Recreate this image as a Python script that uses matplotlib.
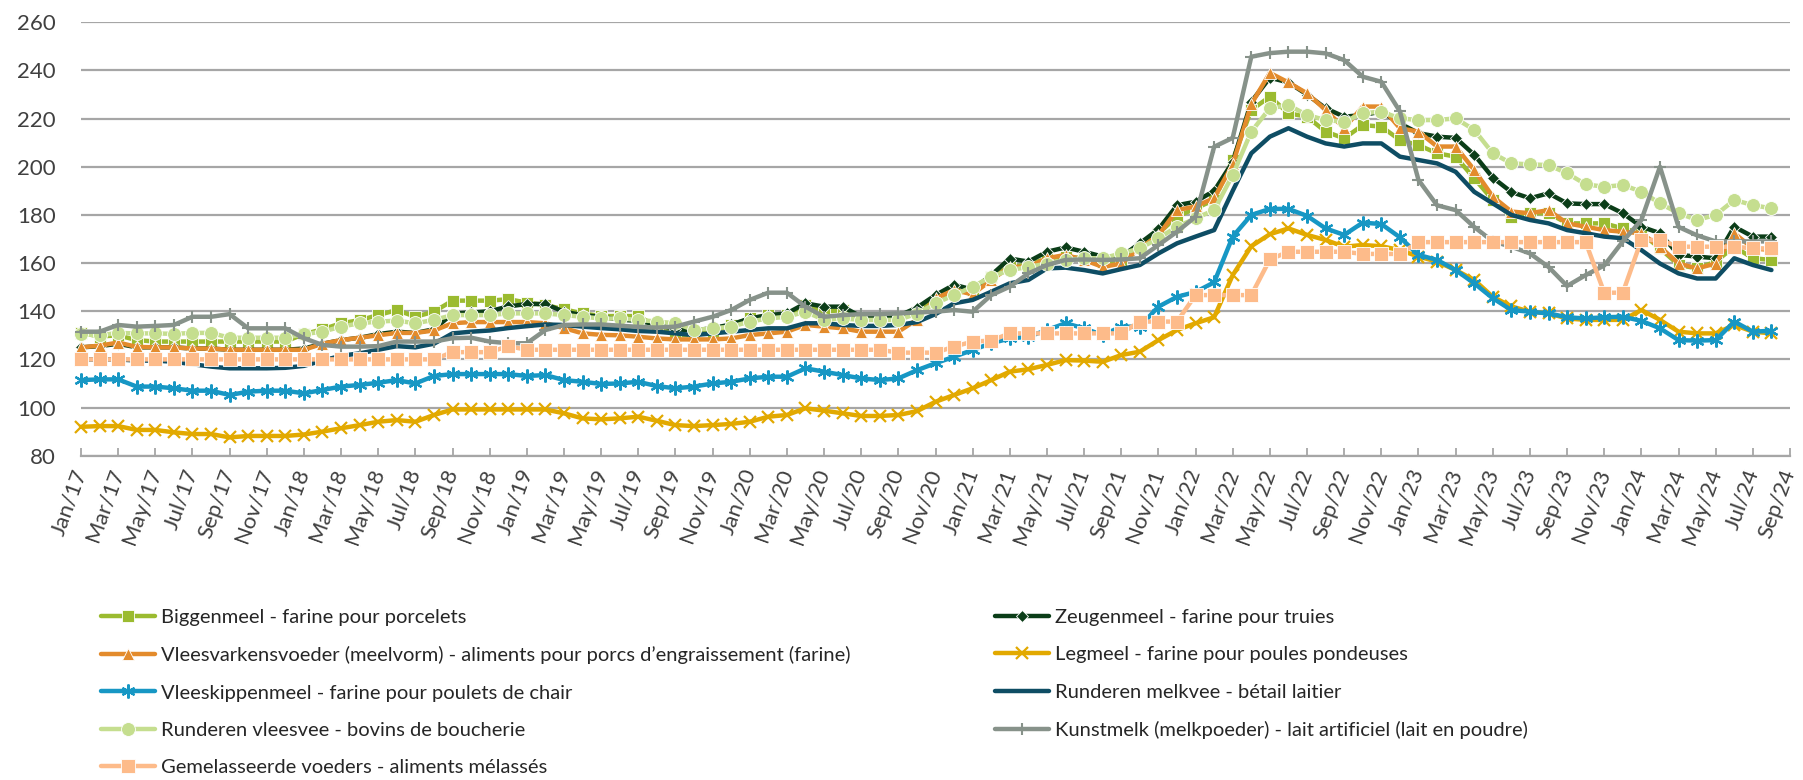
import matplotlib
matplotlib.use('Agg')
import matplotlib.pyplot as plt
import numpy as np

plt.rcParams['font.family'] = ['Lato', 'DejaVu Sans']

# ---------------- data ----------------
month_abbr = ['Jan', 'Feb', 'Mar', 'Apr', 'May', 'Jun', 'Jul', 'Aug', 'Sep', 'Oct', 'Nov', 'Dec']
month_labels = [f"{m}/{y}" for y in range(17, 25) for m in month_abbr][:93]   # Jan/17 .. Sep/24

biggenmeel = [131, 129.5, 130, 128, 127.4, 127.4, 127.4, 127.4, 127.4, 127.4, 127.4, 127.4, 130.5,
              132.5, 135, 136.3, 138.4, 140.5, 137.7, 139.8, 144.4, 144.4, 144.4, 145, 143.6, 142.6, 140.8, 139.1, 138, 138,
              138, 133.6, 130.1, 130.1, 131.5, 134.3, 137, 138.4, 138.4, 142.6, 139.8, 140.5, 137, 137, 137, 139.8,
              144.7, 147.4, 148.8, 154.3, 158.5, 159.2, 162, 162.7, 162, 160.6, 161.3, 166.1, 172.3, 179.3, 182.7, 186.2,
              202.8, 223.6, 229.1, 222.2, 220.8, 214.6, 211.8, 217.3, 216.7, 211.1, 209, 205.6, 204.2, 195.2, 186.2, 179.3,
              180.7, 180.7, 176.5, 176.5, 176.5, 174.4, 172.4, 166.1, 159.2, 157.8, 160.6, 166.8, 162, 161.3]

zeugenmeel = [125, 125.5, 126.5, 125, 125, 125, 124.5, 124.5, 124, 124, 124, 124, 124.5,
              126.5, 128, 129, 130.5, 131.5, 131, 132.5, 139, 139.5, 140, 142, 143, 143, 139.8, 138.4, 137.7, 136.5,
              136, 134.5, 132.5, 132, 133, 134.5, 137, 138.4, 139.1, 143.3, 141.9, 141.9, 137.7, 137.7, 138, 141.5,
              146.7, 151, 149, 155, 161.9, 160.6, 164.7, 166.5, 164.7, 162.7, 162.7, 168.2, 174, 184, 185.5, 190,
              202, 227, 237, 235, 230, 224.3, 220.8, 221.5, 222.9, 218, 214, 212.5, 212, 205, 195.5, 189.5,
              186.9, 189, 184.8, 184.5, 184.5, 180.7, 175.1, 172.4, 163.4, 162.7, 162, 175.1, 171, 171]

vleesvarkens = [125, 125.7, 127, 125.2, 125, 125, 124.5, 124.5, 124, 124, 124, 124, 124,
                126.5, 128, 129, 130, 131, 131, 132, 135, 135.5, 135.5, 135.5, 135.5, 135, 133, 130.8, 130.2, 130,
                129.4, 128.7, 128.3, 128.3, 128.3, 128.7, 130.1, 130.8, 131.5, 134.3, 133.6, 132.9, 131.5, 131.5, 131.5, 136.5,
                145.3, 148.8, 147, 153, 158.4, 158.4, 162, 163.4, 161.3, 158.4, 159.8, 166.1, 171.5, 182, 183.5, 187,
                201, 226, 239, 235, 230.5, 223.6, 216, 225, 225, 216, 214.6, 208.4, 208.4, 198.7, 187.6, 181.4,
                180.7, 182, 176.5, 175.1, 173.7, 173, 172.4, 166.8, 159.8, 157.8, 159.8, 172.4, 166.1, 165.4]

legmeel = [92, 92.3, 92.3, 90.7, 90.7, 89.7, 89, 89, 87.6, 88.2, 88.2, 88.2, 88.8,
           90, 91.4, 92.7, 94.1, 94.8, 94.1, 96.9, 99.2, 99.2, 99.2, 99.2, 99.2, 99.2, 97.6, 95.5, 95.1, 95.5,
           96.2, 94.5, 92.7, 92.3, 92.7, 93.2, 94.1, 96.2, 96.9, 99.7, 98.7, 97.6, 96.5, 96.5, 96.9, 98.5,
           102.4, 105.2, 108, 111.4, 114.9, 115.9, 117.7, 119.7, 119.5, 119, 121.8, 123.2, 128, 132.2, 135, 137.5,
           155, 167, 172, 174.4, 171.7, 169.6, 166.8, 167.5, 167, 165.4, 162.7, 160.6, 157.1, 153, 146, 142,
           139.8, 139.1, 137, 136.4, 136.4, 136.4, 140.5, 136.4, 131.5, 130.8, 130.8, 134.3, 131.5, 130.8]

vleeskippen = [111.4, 111.7, 111.7, 108.7, 108.7, 108, 107, 107, 105.2, 106.6, 107, 107, 105.9,
               107.3, 108.7, 109.4, 110.3, 111.4, 110, 113.1, 113.9, 113.9, 113.9, 113.9, 113.1, 113.5, 111.4, 110.7, 109.8, 110,
               110.7, 108.9, 108, 108.7, 110, 110.7, 112.1, 112.8, 112.8, 116.3, 114.9, 113.5, 112.1, 111.4, 112.1, 115.5,
               118.4, 121.1, 123.9, 126.7, 128.7, 129.4, 132.2, 135, 132.9, 130.1, 133.6, 133.6, 141.9, 146, 148, 152,
               171, 180, 182.5, 182.5, 179.6, 174.4, 171.7, 176.8, 176.2, 170.7, 163.4, 161.3, 157.1, 151.6, 145.4, 140.5,
               139.8, 139.1, 137.5, 137, 137.5, 137.7, 136, 132.9, 128, 127.8, 128, 135.7, 131.5, 131.9]

melkvee = [120, 120, 120, 119.5, 119.5, 119, 118, 117, 116.3, 116.3, 116.3, 116.5, 117.3,
           119.5, 121.5, 122.5, 124, 125.5, 125, 126.5, 130.8, 131.5, 132, 133, 133.8, 134.5, 134.3, 133.6, 133, 132.5,
           131.8, 131.5, 130.8, 130.1, 130.8, 131.5, 132.2, 132.9, 132.9, 135, 135, 134.3, 133.9, 133.9, 134.3, 135.5,
           138.8, 143.3, 144.7, 148.1, 151.6, 153, 157.8, 158.1, 157.1, 155.7, 157.5, 159.2, 164, 168.2, 171, 173.7,
           190, 205.6, 212.5, 216, 212.5, 209.7, 208.4, 209.7, 209.7, 204.2, 202.8, 201.4, 197.9, 189.6, 184.8, 180,
           177.9, 176.5, 173.7, 172.4, 171, 170.3, 165.4, 159.8, 155.7, 153.6, 153.6, 162, 159.2, 157.1]

vleesvee = [130.5, 130, 131, 130.8, 130.8, 130.6, 131, 131, 129, 129, 129, 129, 130.5,
            131.5, 133.6, 135, 135.7, 136.1, 135, 136.4, 138.4, 138.4, 138.4, 139.1, 139.1, 139.1, 138.4, 137.7, 137, 137,
            136.4, 135.7, 135, 132.2, 132.9, 133.6, 135.7, 137, 137.7, 139.8, 136.4, 137, 136.4, 136.4, 136.4, 139,
            143.3, 146.7, 150.2, 154.3, 157.1, 158.4, 159.8, 161.3, 162, 162, 164, 166.1, 170.3, 175.1, 178.6, 182,
            196.6, 214.6, 224.3, 225.6, 221.5, 219.4, 218.7, 222.2, 222.9, 220.1, 219.4, 219.4, 220.1, 215.3, 205.6, 201.4,
            201, 200.7, 197.3, 192.7, 191.7, 192.4, 189.7, 184.8, 180.7, 177.9, 180, 186.2, 184.1, 182.7]

kunstmelk = [131.5, 131.5, 134.3, 133.6, 133.9, 134.3, 137.7, 137.7, 138.8, 132.9, 132.9, 132.9, 128.8,
             126, 125.3, 125.3, 125.5, 127.4, 127.4, 127.4, 128.8, 129, 127.4, 126.7, 126.7, 132.2, 134.3, 134.5, 134.5, 134,
             133.5, 133.2, 133.6, 135.7, 137.7, 140.5, 144.7, 147.7, 147.7, 141.9, 137.7, 138.4, 138.8, 138.8, 139.1, 139.5,
             139.8, 140.5, 139.8, 146.7, 150.2, 155.7, 159.2, 161.3, 161.5, 161.3, 161.5, 162, 167.5, 173, 179.3, 208.3,
             212, 245.7, 247.2, 247.8, 247.8, 247.1, 244.3, 237.4, 235.3, 223, 194.5, 184, 182, 175, 169, 166.8,
             164, 158.4, 150.5, 155, 159, 169, 177.9, 200, 175, 171.5, 169, 169, 169, 169]

gemelasseerd = [120, 120, 120, 120, 120, 120, 120, 120, 120, 120, 120, 120, 120,
                120, 120, 120, 120, 120, 120, 120, 123, 123, 123, 125.5, 124, 124, 124, 124, 124, 124,
                124, 124, 124, 124, 124, 124, 124, 124, 124, 124, 124, 124, 124, 124, 122.8, 122.8,
                122.8, 125.3, 127.4, 127.8, 130.8, 130.8, 130.8, 130.8, 130.8, 130.8, 130.8, 135.7, 135.7, 135.7, 146.7, 146.7,
                146.7, 146.7, 161.5, 164.7, 164.7, 164.7, 164.7, 163.8, 163.8, 163.8, 168.7, 168.7, 168.7, 168.7, 168.7, 168.7,
                168.7, 168.7, 168.7, 168.7, 147.7, 147.7, 169.6, 169.6, 166.8, 166.8, 166.8, 166.8, 166.1, 166.1]

series_names = [
    "Biggenmeel - farine pour porcelets",
    "Zeugenmeel - farine pour truies",
    "Vleesvarkensvoeder (meelvorm) - aliments pour porcs d\u2019engraissement (farine)",
    "Legmeel - farine pour poules pondeuses",
    "Vleeskippenmeel - farine pour poulets de chair",
    "Runderen melkvee - bétail laitier",
    "Runderen vleesvee - bovins de boucherie",
    "Kunstmelk (melkpoeder) - lait artificiel (lait en poudre)",
    "Gemelasseerde voeders - aliments mélassés",
]
series_values = [biggenmeel, zeugenmeel, vleesvarkens, legmeel, vleeskippen,
                 melkvee, vleesvee, kunstmelk, gemelasseerd]

# ---------------- styles ----------------
styles = [
    dict(color='#9BBB30', marker='s', ms=8.5, mec='#9BBB30'),
    dict(color='#0B3D18', marker='D', ms=6.5, mec='#0B3D18'),
    dict(color='#E38B2C', marker='^', ms=8.5, mec='#E38B2C'),
    dict(color='#E2A900', marker='x', ms=8, mew=1.6),
    dict(color='#1797C4', marker=(6, 2, 0), ms=10, mew=1.6),
    dict(color='#0E4D64', marker=None),
    dict(color='#C5DE8F', marker='o', ms=10, mec='#C5DE8F'),
    dict(color='#87928A', marker='+', ms=9, mew=1.5),
    dict(color='#FDBB8A', marker='s', ms=9.5, mec='#FDBB8A'),
]

W, H = 1803, 780
fig = plt.figure(figsize=(W / 100, H / 100), dpi=100)
x0, x1 = 81, 1790
y_top, y_bot = 22.3, 455.7
ax = fig.add_axes([x0 / W, 1 - y_bot / H, (x1 - x0) / W, (y_bot - y_top) / H])

handles = []
for name, vals, st in zip(series_names, series_values, styles):
    x = np.arange(len(vals))
    kw = dict(color=st['color'], lw=3.2, solid_joinstyle='round', solid_capstyle='round')
    if st['marker'] is not None:
        kw.update(marker=st['marker'], markersize=st['ms'])
        if 'mec' in st:
            kw.update(markeredgecolor='white', markeredgewidth=0.6, markerfacecolor=st['color'])
        else:
            kw.update(markeredgewidth=st.get('mew', 1.5))
    h, = ax.plot(x, vals, label=name, clip_on=False, **kw)
    handles.append(h)

ax.set_xlim(0, 92)
ax.set_ylim(80, 260)
ax.set_yticks(np.arange(80, 261, 20))
ax.yaxis.grid(True, color='#A6A6A6', lw=1.6)
ax.set_axisbelow(True)
for s in ['left', 'top', 'right']:
    ax.spines[s].set_visible(False)
ax.spines['bottom'].set_color('#A6A6A6')
ax.spines['bottom'].set_linewidth(1.6)
ax.spines['bottom'].set_zorder(0.5)

tick_pos = list(range(0, 93, 2))
ax.set_xticks(tick_pos)
ax.set_xticklabels([month_labels[i] for i in tick_pos], rotation=70, ha='right', va='center',
                   rotation_mode='anchor', fontsize=16, color='#404040')
ax.tick_params(axis='x', direction='in', length=5.5, width=1.3, color='#A6A6A6', pad=10)
ax.tick_params(axis='y', length=0, pad=18, labelsize=16, labelcolor='#404040')

# legend: two columns placed like the original
left_idx = [0, 2, 4, 6, 8]
right_idx = [1, 3, 5, 7]
leg_kw = dict(loc='upper left', frameon=False, fontsize=14.5, handlelength=2.7, handletextpad=0.3,
              labelspacing=1.0, borderpad=0, borderaxespad=0, numpoints=1, labelcolor='#262626')
leg1 = fig.legend([handles[i] for i in left_idx], [series_names[i] for i in left_idx],
                  bbox_to_anchor=(101 / W, 1 - 609 / H), **leg_kw)
leg2 = fig.legend([handles[i] for i in right_idx], [series_names[i] for i in right_idx],
                  bbox_to_anchor=(995 / W, 1 - 609 / H), **leg_kw)

fig.savefig('out.png', dpi=100)
